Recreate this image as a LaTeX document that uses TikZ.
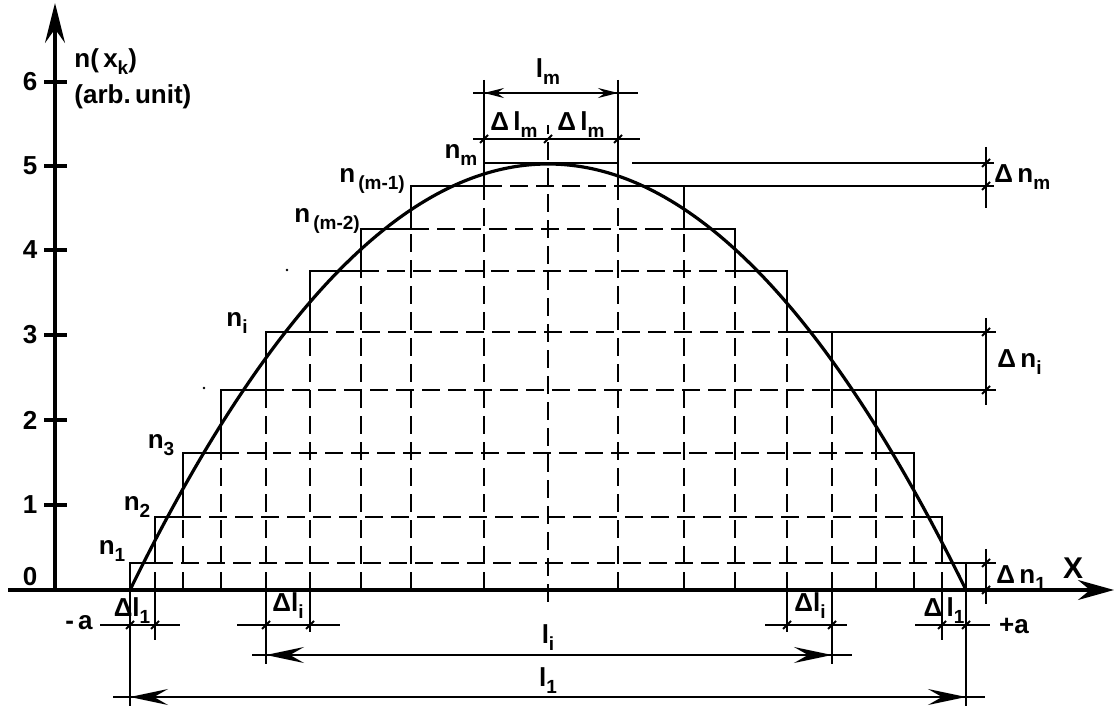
\documentclass[tikz,border=0pt]{standalone}
\usepackage{fontspec}
\setmainfont{Liberation Sans}
\usetikzlibrary{arrows.meta}
\newcommand\sbs[1]{\raisebox{-0.5ex}{\fontsize{9.5}{10}\selectfont #1}}
\begin{document}
\begin{tikzpicture}[x=0.5pt,y=-0.5pt,
  lbl/.style={font=\fontsize{13}{15}\selectfont\bfseries, inner sep=0pt},
  axisline/.style={line width=1.6pt},
  stair/.style={line width=1.2pt},
  curve/.style={line width=1.6pt},
  gridline/.style={line width=0.8pt, dash pattern=on 9pt off 4pt},
  dimline/.style={line width=0.75pt},
  bigarrow/.style={-{Stealth[length=19pt,width=8pt,inset=7pt]}},
  smallarrow/.style={-{Stealth[length=10pt,width=5pt,inset=3.5pt]}},
  tickmark/.style={line width=0.9pt}]
\useasboundingbox (0,0) rectangle (1115,715);
% axes
\coordinate (O) at (55,590);
\coordinate (ytop) at (55,3);
\coordinate (xl) at (8,590);
\coordinate (xr) at (1114,590);
\draw[axisline,-{Stealth[length=20pt,width=10pt,inset=7pt]}] (55,592) -- (ytop);
\draw[axisline,-{Stealth[length=18pt,width=10pt,inset=6pt]}] (xl) -- (xr);
\foreach \v/\yy in {1/505,2/420,3/335,4/250,5/166,6/82}{
  \draw[axisline] (44,\yy) -- (67,\yy);
  \node[lbl] (t\v) at (30,\yy) {\v};
}
\node[lbl] (t0) at (30,577) {0};
\node[lbl,anchor=west] (ylab1) at (74,62) {n(\,x\sbs{k})};
\node[lbl,anchor=west] (ylab2) at (74,97) {(arb.\,unit)};
\node[lbl] (xlab) at (1073,568) {\fontsize{15}{15}\selectfont X};
% dashed grid
\foreach \xl/\xr/\h in {155/942/563,183/914/517,221/876/453,266/832/390,310/787/332,361/735/271,411/684/229,484/618/186}{
  \draw[gridline] (\xl,\h) -- (\xr,\h);
  \draw[gridline] (\xl,590) -- (\xl,\h);
  \draw[gridline] (\xr,590) -- (\xr,\h);
}
\draw[gridline] (548,602) -- (548,125);
% staircase
\draw[stair] (130,590)--(130,563)--(155,563)--(155,517)--(183,517)--(183,453)--(221,453)--(221,390)--(266,390)--(266,332)--(310,332)--(310,271)--(361,271)--(361,229)--(411,229)--(411,186)--(484,186)--(484,163)--(618,163)--(618,186)--(684,186)--(684,229)--(735,229)--(735,271)--(787,271)--(787,332)--(832,332)--(832,390)--(876,390)--(876,453)--(914,453)--(914,517)--(942,517)--(942,563)--(966,563)--(966,590);
% curve
\draw[curve] plot[domain=130:966, samples=120, smooth] (\x, {590-426*(1-((\x-548)/418)^2)});
% step labels
\node[lbl] (n1) at (112,551) {n\sbs{1}};
\node[lbl] (n2) at (137,507) {n\sbs{2}};
\node[lbl] (n3) at (161,445) {n\sbs{3}};
\node[lbl] (ni) at (237,323) {n\sbs{i}};
\node[lbl] (nm2) at (327,221) {n\sbs{\,(m-2)}};
\node[lbl] (nm1) at (372,181) {n\sbs{\,(m-1)}};
\node[lbl] (nm) at (461,155) {n\sbs{m}};
\fill (287,270) circle (1.3);
\fill (204,388) circle (1.3);
% top dimension l_m
\draw[dimline] (484,80) -- (484,163);
\draw[dimline] (618,80) -- (618,163);
\coordinate (lmc) at (548,93);
\coordinate (lmL) at (484,93);
\coordinate (lmR) at (618,93);
\draw[dimline] (473,93) -- (638,93);
\draw[dimline,smallarrow] (lmc) -- (lmL);
\draw[dimline,smallarrow] (lmc) -- (lmR);
\node[lbl] (lm) at (548,72) {l\sbs{m}};
\draw[dimline] (473,139) -- (640,139);
\foreach \xx in {484,548,618}{\draw[tickmark] (\xx-4,143) -- (\xx+4,135);}
\node[lbl] (dlm1) at (514,125) {Δ\,l\sbs{m}};
\node[lbl] (dlm2) at (581,125) {Δ\,l\sbs{m}};
% right dimension delta n
\draw[dimline] (632,163) -- (994,163);
\draw[dimline] (684,186) -- (994,186);
\draw[dimline] (986,147) -- (986,208);
\draw[tickmark] (982,167) -- (990,159);
\draw[tickmark] (982,190) -- (990,182);
\node[lbl,anchor=west] (dnm) at (994,177) {Δ\,n\sbs{m}};
\draw[dimline] (832,332) -- (996,332);
\draw[dimline] (876,390) -- (996,390);
\draw[dimline] (986,318) -- (986,405);
\draw[tickmark] (982,336) -- (990,328);
\draw[tickmark] (982,394) -- (990,386);
\node[lbl,anchor=west] (dni) at (997,362) {Δ\,n\sbs{i}};
\draw[dimline] (966,563) -- (996,563);
\draw[dimline] (986,549) -- (986,604);
\draw[tickmark] (982,567) -- (990,559);
\draw[tickmark] (982,594) -- (990,586);
\node[lbl,anchor=west] (dn1) at (996,578) {Δ\,n\sbs{1}};
% bottom extension lines
\draw[dimline] (130,590) -- (130,706);
\draw[dimline] (966,590) -- (966,706);
\draw[dimline] (155,590) -- (155,640);
\draw[dimline] (942,590) -- (942,640);
\draw[dimline] (266,590) -- (266,664);
\draw[dimline] (832,590) -- (832,664);
\draw[dimline] (310,590) -- (310,632);
\draw[dimline] (787,590) -- (787,632);
% delta l lines
\draw[dimline] (100,625) -- (180,625);
\foreach \xx in {130,155}{\draw[tickmark] (\xx-4,629) -- (\xx+4,621);}
\node[lbl] (dl1a) at (132,611) {Δl\sbs{1}};
\node[lbl] (ma) at (79,623) {-\,a};
\draw[dimline] (237,625) -- (340,625);
\foreach \xx in {266,310}{\draw[tickmark] (\xx-4,629) -- (\xx+4,621);}
\node[lbl] (dlia) at (288,606) {Δl\sbs{i}};
\draw[dimline] (765,625) -- (847,625);
\foreach \xx in {787,832}{\draw[tickmark] (\xx-4,629) -- (\xx+4,621);}
\node[lbl] (dlib) at (810,606) {Δl\sbs{i}};
\draw[dimline] (915,625) -- (990,625);
\foreach \xx in {942,966}{\draw[tickmark] (\xx-4,629) -- (\xx+4,621);}
\node[lbl] (dl1b) at (944,611) {Δ\,l\sbs{1}};
\node[lbl] (pa) at (1014,626) {+a};
% l_i
\coordinate (lic) at (548,655);
\coordinate (liL) at (266,655);
\coordinate (liR) at (832,655);
\draw[dimline] (252,655) -- (852,655);
\draw[dimline,bigarrow] (lic) -- (liL);
\draw[dimline,bigarrow] (lic) -- (liR);
\node[lbl] (li) at (548,638) {l\sbs{i}};
% l_1
\coordinate (l1c) at (548,697);
\coordinate (l1L) at (130,697);
\coordinate (l1R) at (966,697);
\draw[dimline] (113,697) -- (985,697);
\draw[dimline,bigarrow] (l1c) -- (l1L);
\draw[dimline,bigarrow] (l1c) -- (l1R);
\node[lbl] (l1) at (548,681) {l\sbs{1}};
\end{tikzpicture}
\end{document}
